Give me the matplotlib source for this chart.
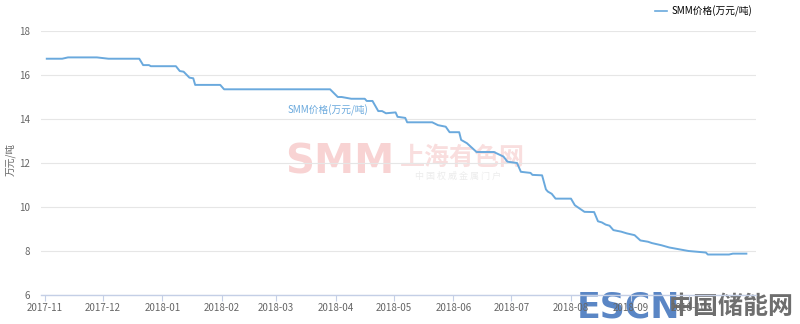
import matplotlib
matplotlib.use("Agg")
import matplotlib.pyplot as plt
import pandas as pd
from matplotlib.lines import Line2D

plt.rcParams['font.family'] = ['Noto Sans CJK SC', 'DejaVu Sans']

series_name = "SMM价格(万元/吨)"
y_label = "万元/吨"

dates = [
    "2017-11-02", "2017-11-10", "2017-11-13", "2017-11-28", "2017-11-30", "2017-12-04",
    "2017-12-20", "2017-12-22", "2017-12-25", "2017-12-26", "2018-01-08", "2018-01-10",
    "2018-01-12", "2018-01-15", "2018-01-17", "2018-01-18", "2018-01-31", "2018-02-02",
    "2018-03-29", "2018-04-02", "2018-04-04", "2018-04-09", "2018-04-16", "2018-04-17",
    "2018-04-20", "2018-04-23", "2018-04-25", "2018-04-27", "2018-05-02", "2018-05-03",
    "2018-05-07", "2018-05-08", "2018-05-21", "2018-05-24", "2018-05-28", "2018-05-30",
    "2018-06-04", "2018-06-05", "2018-06-08", "2018-06-13", "2018-06-22", "2018-06-27",
    "2018-06-29", "2018-07-04", "2018-07-06", "2018-07-11", "2018-07-12", "2018-07-17",
    "2018-07-19", "2018-07-20", "2018-07-22", "2018-07-24", "2018-08-01", "2018-08-03",
    "2018-08-06", "2018-08-08", "2018-08-13", "2018-08-15", "2018-08-17", "2018-08-19",
    "2018-08-21", "2018-08-23", "2018-08-27", "2018-08-30", "2018-09-03", "2018-09-06",
    "2018-09-10", "2018-09-12", "2018-09-17", "2018-09-21", "2018-09-26", "2018-10-01",
    "2018-10-10", "2018-10-11", "2018-10-22", "2018-10-24", "2018-10-31",
]
prices = [
    16.74, 16.74, 16.80, 16.80, 16.78, 16.74,
    16.74, 16.45, 16.45, 16.40, 16.40, 16.18,
    16.15, 15.88, 15.85, 15.55, 15.55, 15.35,
    15.35, 15.00, 15.00, 14.92, 14.92, 14.82,
    14.82, 14.36, 14.36, 14.26, 14.30, 14.10,
    14.05, 13.85, 13.85, 13.72, 13.65, 13.40,
    13.40, 13.05, 12.90, 12.50, 12.50, 12.29,
    12.06, 12.00, 11.60, 11.55, 11.46, 11.44,
    10.80, 10.70, 10.60, 10.38, 10.38, 10.08,
    9.90, 9.78, 9.77, 9.35, 9.30, 9.20,
    9.15, 8.95, 8.88, 8.80, 8.72, 8.48,
    8.42, 8.36, 8.26, 8.16, 8.08, 8.00,
    7.93, 7.84, 7.84, 7.88, 7.88,
]
month_ticks = ["2017-11", "2017-12", "2018-01", "2018-02", "2018-03", "2018-04",
               "2018-05", "2018-06", "2018-07", "2018-08", "2018-09", "2018-10"]
y_ticks = [6, 8, 10, 12, 14, 16, 18]

W, H = 800, 324
fig = plt.figure(figsize=(W / 100, H / 100), dpi=100)
ax = fig.add_axes([41 / W, 1 - 295 / H, (756 - 41) / W, (295 - 31) / H])
ax.patch.set_alpha(0)

line_color = "#6aa9dd"
x = pd.to_datetime(dates)
ax.plot(x, prices, color=line_color, lw=1.4, solid_joinstyle="round", zorder=3)

ax.set_xlim(pd.Timestamp("2017-10-30"), pd.Timestamp("2018-11-05"))
ax.set_ylim(6, 18)
ax.set_yticks(y_ticks)
ax.set_yticklabels([str(v) for v in y_ticks])
ax.set_xticks(pd.to_datetime([m + "-01" for m in month_ticks]))
ax.set_xticklabels(month_ticks)

ax.grid(axis="y", color="#e6e6e6", lw=0.8)
ax.set_axisbelow(True)
for s in ["top", "right", "left"]:
    ax.spines[s].set_visible(False)
ax.spines["bottom"].set_color("#c4cfe6")
ax.spines["bottom"].set_linewidth(1.0)
ax.tick_params(axis="y", length=0, labelsize=7, labelcolor="#666666", pad=8)
ax.tick_params(axis="x", length=4, color="#c4cfe6", labelsize=7, labelcolor="#666666", pad=2)

fig.text(10 / W, 1 - 160 / H, y_label, rotation=90, fontsize=7, color="#666666",
         ha="center", va="center")

# inline label
fig.text(328 / W, 1 - 110 / H, series_name, fontsize=7, color=line_color,
         ha="center", va="center")

# legend
leg_line = Line2D([], [], color=line_color, lw=1.2)
fig.legend([leg_line], [series_name], loc="upper right",
           bbox_to_anchor=(756 / W, 1 - 2 / H), frameon=False, fontsize=7,
           handlelength=1.3, handletextpad=0.4, borderaxespad=0)

# SMM watermark (behind the plot)
fig.text(340 / W, 1 - 163 / H, "SMM", fontsize=29, fontweight="bold",
         color="#f8d3d3", ha="center", va="center", family="DejaVu Sans", zorder=-1)
fig.text(462 / W, 1 - 158 / H, "上海有色网", fontsize=18, fontweight="bold",
         color="#f9dede", ha="center", va="center", zorder=-1)
fig.text(458 / W, 1 - 176 / H, "中 国 权 威 金 属 门 户", fontsize=6.5,
         color="#ececec", ha="center", va="center", zorder=-1)

# ESCN watermark (behind the tick labels)
fig.text(629 / W, 1 - 308 / H, "ESCN", fontsize=25, fontweight="bold",
         color="#5a86c5", ha="center", va="center", family="Liberation Sans Narrow", zorder=-1)
fig.text(731 / W, 1 - 307 / H, "中国储能网", fontsize=18, fontweight="bold",
         color="#6e6e6e", ha="center", va="center", zorder=-1)

fig.savefig("out.png", dpi=100)
